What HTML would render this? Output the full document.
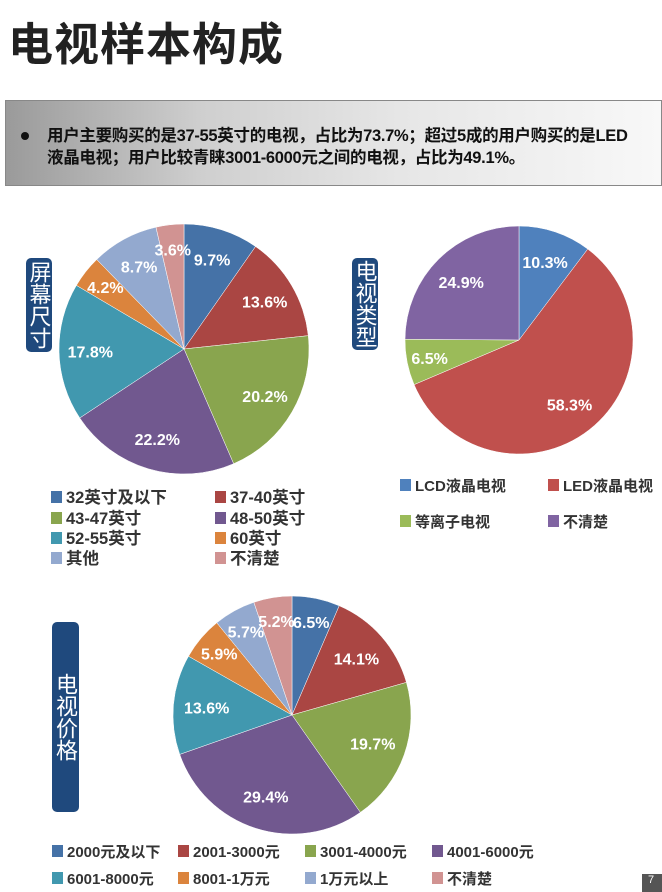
<!DOCTYPE html>
<html><head><meta charset="utf-8">
<style>
body{margin:0;width:662px;height:892px;background:#fff;overflow:hidden;position:relative;font-family:"Liberation Sans","Noto Sans CJK SC",sans-serif;}
.title{position:absolute;left:8px;top:8px;font-size:45px;font-weight:bold;color:#222;letter-spacing:1px;}
.banner{position:absolute;left:5px;top:100px;width:657px;height:86px;background:linear-gradient(90deg,#9a9a9a 0%,#cfcfcf 30%,#e6e6e6 60%,#f8f8f8 100%);box-shadow:inset 0 0 0 1px #888;}
.banner .txt{position:absolute;left:42px;top:25px;font-size:16.5px;font-weight:bold;color:#111;line-height:22px;white-space:nowrap;letter-spacing:-0.3px;}
.banner .dot{position:absolute;left:16px;top:32px;width:8px;height:8px;border-radius:50%;background:#111;}
.vlab{position:absolute;background:#1f497d;border-radius:5px;color:#fff;font-size:22px;line-height:23px;text-align:center;writing-mode:vertical-rl;display:flex;align-items:center;justify-content:center;}
.pg{position:absolute;left:642px;top:874px;width:20px;height:18px;background:#555;color:#fff;font-size:11px;padding-left:6px;box-sizing:border-box;}
svg{position:absolute;left:0;top:0;}
</style></head><body>
<div class="title">电视样本构成</div>
<div class="banner"><div class="dot"></div><div class="txt">用户主要购买的是37-55英寸的电视，占比为73.7%；超过5成的用户购买的是LED<br>液晶电视；用户比较青睐3001-6000元之间的电视，占比为49.1%。</div></div>
<div class="vlab" style="left:26px;top:258px;width:26px;height:94px;">屏幕尺寸</div>
<div class="vlab" style="left:352px;top:258px;width:26px;height:92px;">电视类型</div>
<div class="vlab" style="left:52px;top:622px;width:27px;height:190px;">电视价格</div>
<div class="pg">7</div>
<svg id="chart" width="662" height="892"></svg>
<script>
const sizeCats=["32英寸及以下","37-40英寸","43-47英寸","48-50英寸","52-55英寸","60英寸","其他","不清楚"];
const sizeVals=[9.7,13.6,20.2,22.2,17.8,4.2,8.7,3.6];
const typeCats=["LCD液晶电视","LED液晶电视","等离子电视","不清楚"];
const typeVals=[10.3,58.3,6.5,24.9];
const priceCats=["2000元及以下","2001-3000元","3001-4000元","4001-6000元","6001-8000元","8001-1万元","1万元以上","不清楚"];
const priceVals=[6.5,14.1,19.7,29.4,13.6,5.9,5.7,5.2];
const colA=["#4572a7","#aa4643","#89a54e","#71588f","#4198af","#db843d","#93a9cf","#d19392"];
const colB=["#4f81bd","#c0504d","#9bbb59","#8064a2"];
const NS="http://www.w3.org/2000/svg";
const svg=document.getElementById('chart');
function mk(t,a){const e=document.createElementNS(NS,t);for(const k in a)e.setAttribute(k,a[k]);svg.appendChild(e);return e;}
function pie(name,cx,cy,r,vals,cols,fs,lf){
  const tot=vals.reduce((a,b)=>a+b,0);let a0=0;
  vals.forEach((v,i)=>{
    const a1=a0+v/tot*2*Math.PI;
    const x0=cx+r*Math.sin(a0),y0=cy-r*Math.cos(a0),x1=cx+r*Math.sin(a1),y1=cy-r*Math.cos(a1);
    const p=mk('path',{d:`M${cx},${cy}L${x0},${y0}A${r},${r} 0 ${a1-a0>Math.PI?1:0} 1 ${x1},${y1}Z`,fill:cols[i],stroke:'#fff','stroke-width':0.5});
    
    
    const am=(a0+a1)/2,f=v<7?0.8:lf;
    const t=mk('text',{x:cx+r*f*Math.sin(am),y:cy-r*f*Math.cos(am)+6,'text-anchor':'middle',fill:'#fff','font-size':fs,'font-weight':'bold'});
    t.textContent=v.toFixed(1)+'%';
    
    
    a0=a1;
  });
}
function legend(name,cats,cols,xs,ys,ncol,fs){
  cats.forEach((c,i)=>{
    const x=xs[i%ncol],y=ys[Math.floor(i/ncol)];
    const s=mk('rect',{x:x,y:y-12,width:11,height:12,fill:cols[i]});
    
    
    const t=mk('text',{x:x+15,y:y,fill:'#333','font-size':fs,'font-weight':'bold'});
    t.textContent=c;
    
    
  });
}
pie('screen-size',184,349,125,sizeVals,colA,16,0.75);
pie('tv-type',519,340,114,typeVals,colB,16,0.72);
pie('tv-price',292,715,119,priceVals,colA,16,0.72);
legend('screen-size',sizeCats,colA,[51,215],[503,524,544,564],2,16.5);
legend('tv-type',typeCats,colB,[400,548],[491,527],2,15);
legend('tv-price',priceCats,colA,[52,178,305,432],[857,884],4,15);
</script>
</body></html>
